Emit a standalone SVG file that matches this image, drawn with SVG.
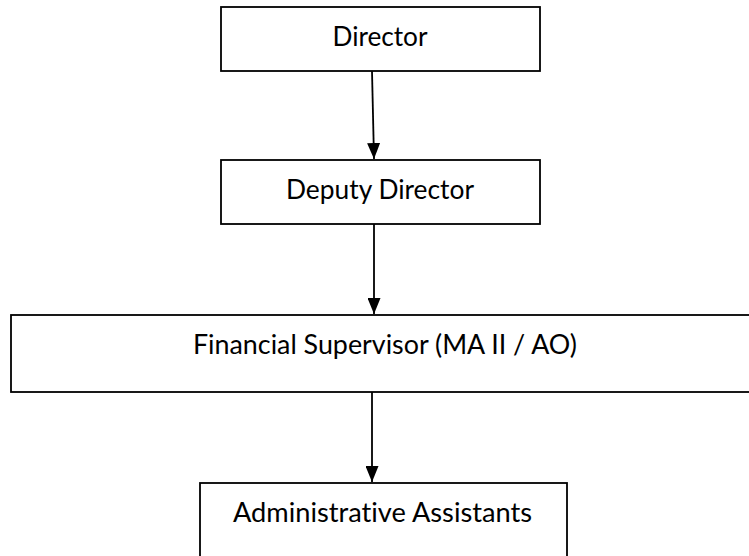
<svg xmlns="http://www.w3.org/2000/svg" width="749" height="556" viewBox="0 0 749 556">
<style>
.box{fill:#fff;stroke:#000;stroke-width:1.8}
.lbl{font-family:Lato,"Open Sans","Liberation Sans",sans-serif;font-size:26px;fill:#000;text-anchor:middle;font-variant-ligatures:none}
.con{stroke:#000;stroke-width:1.8;fill:none}
</style>
<defs>
<marker id="arr" markerWidth="16" markerHeight="13" refX="16" refY="6.5" orient="auto" markerUnits="userSpaceOnUse" viewBox="0 0 16 13">
<path d="M0,0 L16,6.5 L0,13 Z" fill="#000"/>
</marker>
</defs>
<rect width="749" height="556" fill="#fff"/>
<g id="director">
<rect class="box" x="221" y="7" width="319" height="64"/>
<text class="lbl" x="380" y="46" textLength="95" lengthAdjust="spacingAndGlyphs">Director</text>
</g>
<g id="deputy-director">
<rect class="box" x="221" y="160" width="319" height="64"/>
<text class="lbl" x="380" y="199" textLength="188" lengthAdjust="spacingAndGlyphs">Deputy Director</text>
</g>
<g id="financial-supervisor">
<rect class="box" x="11" y="315" width="760" height="77"/>
<text class="lbl" x="385" y="354" textLength="384" lengthAdjust="spacingAndGlyphs">Financial Supervisor (MA II / AO)</text>
</g>
<g id="administrative-assistants">
<rect class="box" x="200" y="483" width="367" height="90"/>
<text class="lbl" x="382.5" y="522" textLength="299" lengthAdjust="spacingAndGlyphs">Administrative Assistants</text>
</g>
<g id="connectors">
<line class="con" x1="372" y1="71" x2="374" y2="159" marker-end="url(#arr)"/>
<line class="con" x1="374" y1="224" x2="374" y2="314" marker-end="url(#arr)"/>
<line class="con" x1="372" y1="392" x2="372" y2="482" marker-end="url(#arr)"/>
</g>
</svg>
